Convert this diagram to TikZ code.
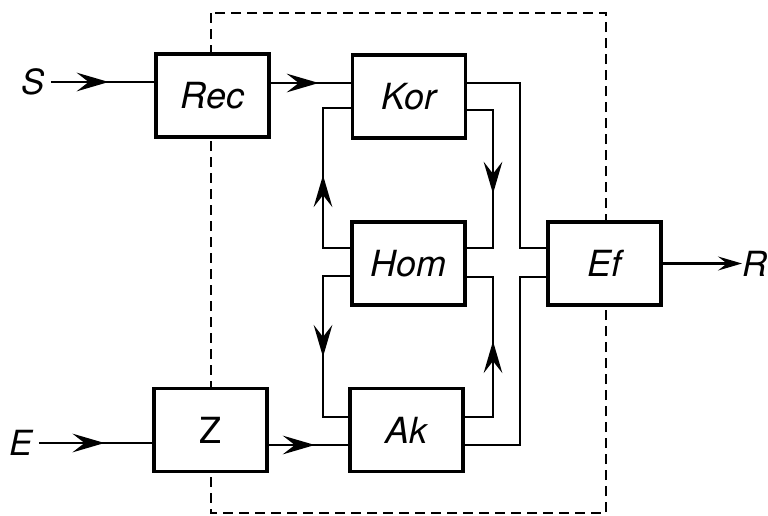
\documentclass[tikz,border=0pt]{standalone}
\usepackage{fontspec}
\setmainfont{TeX Gyre Heros}
\usetikzlibrary{arrows.meta,decorations.markings}
\tikzset{
  x=0.75pt, y=-0.75pt,
  myhead/.tip={Stealth[length=18pt,width=10.5pt,inset=6.75pt]},
  midhead/.tip={Stealth[length=24pt,width=14pt,inset=9pt]},
  blk/.style={draw, line width=2.6pt, fill=white, minimum width=85pt, minimum height=62pt, inner sep=0pt, font=\fontsize{27}{30}\selectfont\itshape},
  lbl/.style={inner sep=4.5pt, font=\fontsize{26}{30}\selectfont\itshape},
  conn/.style={line width=1.6pt},
  dashline/.style={line width=1.1pt, dash pattern=on 7.5pt off 4.5pt},
  arrowat/.style={postaction={decorate}, decoration={markings, mark=at position #1 with {\arrow{midhead}}}}
}
\begin{document}
\begin{tikzpicture}
\useasboundingbox (0,0) rectangle (768,515);
% dashed frame
\draw[dashline] (211,13) rectangle (606,513);
% blocks
\node[blk] (Rec) at (212.5,95.5) {Rec};
\node[blk] (Kor) at (409,96.5) {Kor};
\node[blk] (Hom) at (408.5,263.5) {Hom};
\node[blk] (Ef) at (604.5,263.5) {Ef};
\node[blk, font=\fontsize{27}{30}\selectfont\upshape] (Z) at (210.5,430) {Z};
\node[blk] (Ak) at (406.5,430) {Ak};
% labels
\node[lbl] (S) at (33,82) {S};
\node[lbl] (E) at (21,443) {E};
\node[lbl, anchor=west, inner sep=0pt] (R) at (742,263.5) {R};
% inputs
\draw[conn, arrowat=0.56] (S.east |- 0,82) -- (Rec.west |- 0,82);
\draw[conn, arrowat=0.60] (Rec.east |- 0,83) -- (Kor.west |- 0,83);
\draw[conn, arrowat=0.58] (E.east |- 0,443) -- (Z.west |- 0,443);
\draw[conn, arrowat=0.58] (Z.east |- 0,445) -- (Ak.west |- 0,445);
% Hom <-> Kor
\draw[conn, arrowat=75pt] (Hom.west |- 0,248) -- (323,248) -- (323,108) -- (Kor.west |- 0,108);
\draw[conn, arrowat=82pt] (Kor.east |- 0,110) -- (493,110) -- (493,248) -- (Hom.east |- 0,248);
% Hom <-> Ak
\draw[conn, arrowat=81pt] (Hom.west |- 0,276) -- (323,276) -- (323,417) -- (Ak.west |- 0,417);
\draw[conn, arrowat=78pt] (Ak.east |- 0,417) -- (493,417) -- (493,277) -- (Hom.east |- 0,277);
% to Ef
\draw[conn] (Kor.east |- 0,83) -- (520,83) -- (520,248) -- (Ef.west |- 0,248);
\draw[conn] (Ak.east |- 0,445) -- (520,445) -- (520,277) -- (Ef.west |- 0,277);
% output
\draw[conn, -{myhead}] (Ef.east |- 0,263.5) -- (R.west);
\end{tikzpicture}
\end{document}
